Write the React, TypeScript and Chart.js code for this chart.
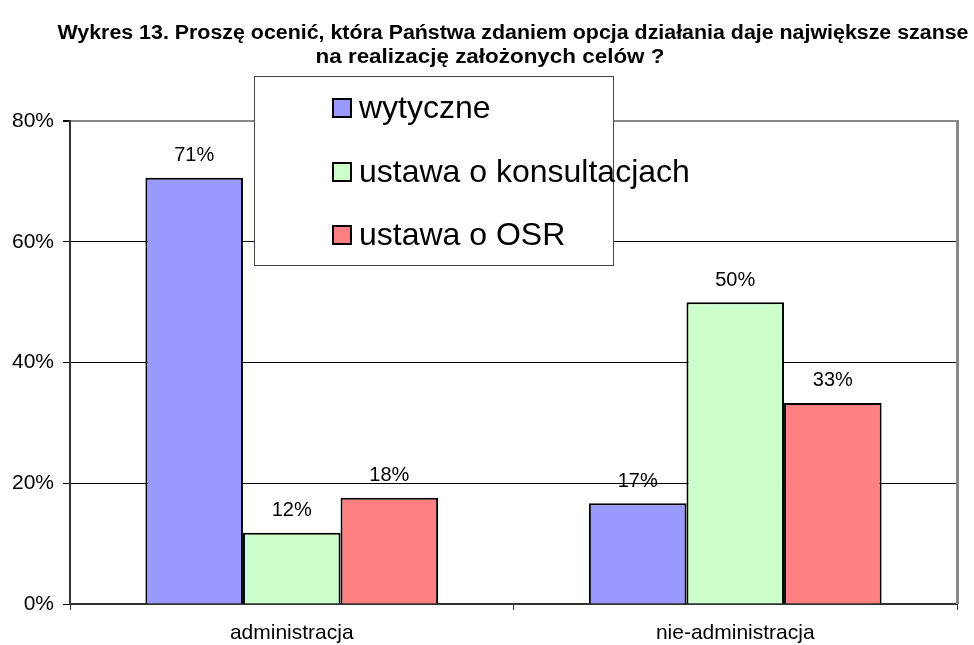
import React, { useEffect, useRef } from "react";
import { Chart, registerables } from "chart.js";

Chart.register(...registerables);

const titleLines = [
  "Wykres 13. Proszę ocenić, która Państwa zdaniem opcja działania daje największe szanse",
  "na realizację założonych celów ?",
];
const categories = ["administracja", "nie-administracja"];
const seriesNames = ["wytyczne", "ustawa o konsultacjach", "ustawa o OSR"];
const wytyczne = [70.6, 16.7];
const konsultacje = [11.8, 50.0];
const osr = [17.6, 33.3];
const seriesColors = ["#9999FF", "#CCFFCC", "#FF8080"];
const yTicks = [0, 20, 40, 60, 80];

const FONT = '"Liberation Sans", Arial, sans-serif';

const overlayPlugin = {
  id: "overlay",
  afterDatasetsDraw(chart: any) {
    const ctx = chart.ctx as CanvasRenderingContext2D;
    const area = chart.chartArea;
    ctx.save();
    // right border of plot area
    ctx.strokeStyle = "#888";
    ctx.lineWidth = 3;
    ctx.beginPath();
    ctx.moveTo(area.right + 0.5, area.top - 1);
    ctx.lineTo(area.right + 0.5, area.bottom);
    ctx.stroke();

    // data labels
    ctx.fillStyle = "#000";
    ctx.font = `20px ${FONT}`;
    ctx.textAlign = "center";
    ctx.textBaseline = "middle";
    chart.data.datasets.forEach((ds: any, di: number) => {
      const meta = chart.getDatasetMeta(di);
      meta.data.forEach((el: any, i: number) => {
        const v = ds.data[i];
        ctx.fillText(Math.round(v) + "%", el.x, el.y - 22);
      });
    });

    // title
    ctx.font = `bold 20px ${FONT}`;
    ctx.textBaseline = "middle";
    const targets = [
      { w: 911, cx: 513, cy: 33 },
      { w: 349, cx: 490, cy: 57 },
    ];
    titleLines.forEach((line, i) => {
      const m = ctx.measureText(line).width;
      const sx = targets[i].w / m;
      ctx.save();
      ctx.translate(targets[i].cx, targets[i].cy);
      ctx.scale(sx, 1);
      ctx.textAlign = "center";
      ctx.fillText(line, 0, 0);
      ctx.restore();
    });

    // legend
    const lx = 254, ly = 76, lw = 359, lh = 189;
    ctx.fillStyle = "#fff";
    ctx.fillRect(lx, ly, lw, lh);
    ctx.strokeStyle = "#444";
    ctx.lineWidth = 1;
    ctx.strokeRect(lx + 0.5, ly + 0.5, lw, lh);
    const rows = [108, 172, 235];
    ctx.font = `32px ${FONT}`;
    ctx.textAlign = "left";
    ctx.textBaseline = "middle";
    chart.data.datasets.forEach((ds: any, di: number) => {
      const cy = rows[di];
      ctx.fillStyle = ds.backgroundColor;
      ctx.fillRect(332, cy - 10, 20, 20);
      ctx.strokeStyle = "#000";
      ctx.lineWidth = 2;
      ctx.strokeRect(333, cy - 9, 18, 18);
      ctx.fillStyle = "#000";
      ctx.fillText(ds.label, 359, cy + 1);
    });
    ctx.restore();
  },
};

export default function App() {
  const ref = useRef<HTMLCanvasElement | null>(null);
  useEffect(() => {
    document.body.style.margin = "0";
    if (!ref.current) return;
    const values = [wytyczne, konsultacje, osr];
    const chart = new Chart(ref.current, {
      type: "bar",
      data: {
        labels: categories,
        datasets: seriesNames.map((name, i) => ({
          label: name,
          data: values[i],
          backgroundColor: seriesColors[i],
          borderColor: "#000",
          borderWidth: 2,
          categoryPercentage: 0.66,
          barPercentage: 1.0,
        })),
      },
      options: {
        responsive: false,
        animation: false,
        layout: { padding: { top: 121, right: 17, left: 0, bottom: 0 } },
        plugins: {
          legend: { display: false },
          title: { display: false },
          tooltip: { enabled: false },
        },
        scales: {
          x: {
            afterFit: (s: any) => {
              s.height = 41;
            },
            grid: {
              display: true,
              drawOnChartArea: false,
              drawTicks: true,
              tickLength: 6,
              offset: true,
              color: "#333",
              tickColor: "#333",
            },
            border: { display: true, color: "#333", width: 2 },
            ticks: {
              color: "#000",
              font: { family: FONT, size: 21 },
              padding: 11,
            },
          },
          y: {
            min: 0,
            max: 80,
            afterFit: (s: any) => {
              s.width = 70;
            },
            afterBuildTicks: (s: any) => {
              s.ticks = yTicks.map((v) => ({ value: v }));
            },
            grid: {
              color: (c: any) => (c.tick && c.tick.value === 80 ? "#888" : "#000"),
              lineWidth: (c: any) => (c.tick && c.tick.value === 80 ? 2 : 1),
              tickColor: "#000",
              tickLength: 7,
            },
            border: { display: true, color: "#333", width: 2 },
            ticks: {
              color: "#000",
              font: { family: FONT, size: 21 },
              padding: 9,
              callback: (v: any) => v + "%",
            },
          },
        },
      },
      plugins: [overlayPlugin],
    });
    return () => chart.destroy();
  }, []);
  return (
    <div style={{ width: 974, height: 645, background: "#fff" }}>
      <canvas ref={ref} width={974} height={645} />
    </div>
  );
}
